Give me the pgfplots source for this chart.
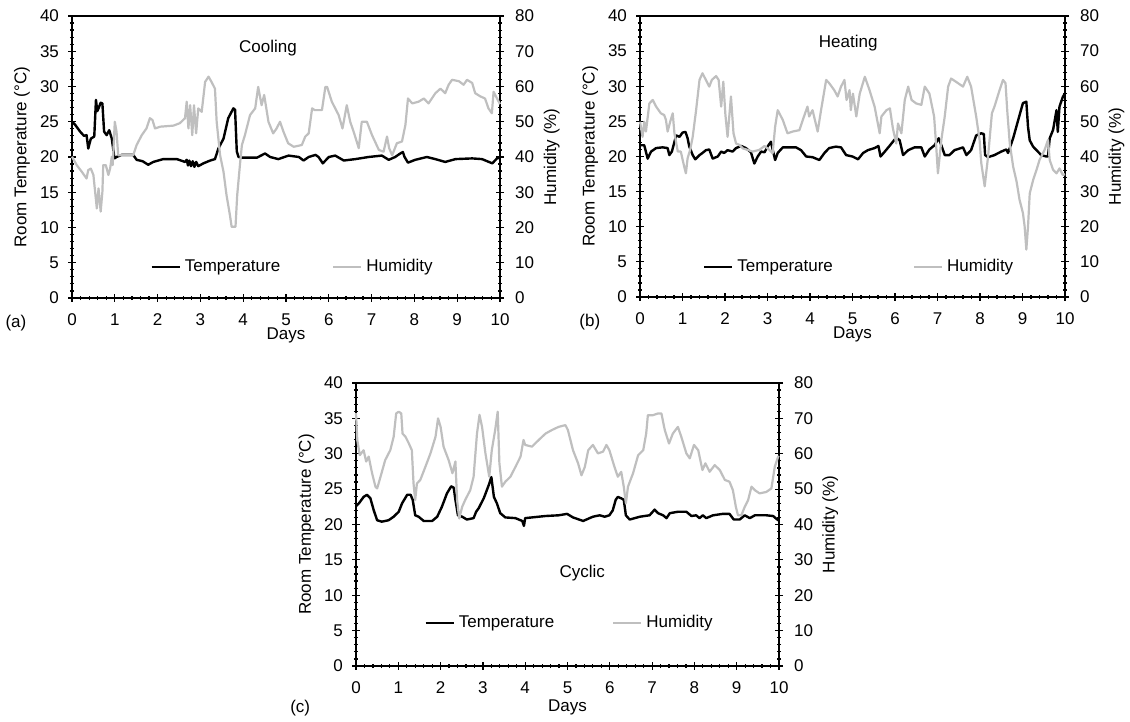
\documentclass[border=0pt]{standalone}
\usepackage{fontspec}
\setmainfont{Liberation Sans}
\usepackage{pgfplots}
\pgfplotsset{compat=1.18}

\definecolor{humgray}{RGB}{191,191,191}

\pgfplotsset{
  panel/.style={
    scale only axis,
    xmin=0, xmax=10,
    /pgf/number format/assume math mode=true,
    tick align=center,
    major tick length=4pt,
    minor tick length=2.2pt,
    every tick/.style={black, line width=0.6pt},
    axis line style={black, line width=0.8pt},
    clip=false,
  },
  tempax/.style={
    panel,
    ymin=0, ymax=40,
    xtick={0,1,...,10}, ytick={0,5,...,40},
    minor x tick num=4, minor y tick num=4,
    xtick pos=bottom, ytick pos=left,
    xticklabel shift=3pt, yticklabel shift=1.5pt,
    ylabel={Room Temperature (°C)}, xlabel={Days},
    every axis y label/.style={at={(axis description cs:-0.117,0.5)}, rotate=90, anchor=center},
    every axis x label/.style={at={(axis description cs:0.5,-0.145)}, anchor=center},
  },
  humax/.style={
    panel,
    ymin=0, ymax=80,
    ytick={0,10,...,80}, minor y tick num=4,
    axis y line*=right, axis x line=none,
    yticklabel shift=2.5pt,
    ylabel={Humidity (\%)},
    every axis y label/.style={at={(axis description cs:1.121,0.5)}, rotate=90, anchor=center},
    legend columns=2,
    legend image code/.code={\draw[#1] (0pt,0pt) -- (14pt,0pt);},
  },
  temp/.style={black, line width=1.2pt, line join=round},
  hum/.style={humgray, line width=1.1pt, line join=round},
}

\begin{document}
\fontsize{8.5}{10}\selectfont
\begin{tikzpicture}
\path[use as bounding box] (0pt,0pt) rectangle (565pt,361pt);

% (a) cooling
\begin{axis}[tempax, at={(36pt,212pt)}, anchor=south west, width=214pt, height=141pt,
  every axis x label/.style={at={(axis description cs:0.5,-0.134)}, anchor=center}]
\addplot[temp] coordinates {
(0,25.0) (0.07,24.6) (0.19,23.6) (0.28,23.0) (0.34,23.1) (0.38,21.2) (0.44,22.6) (0.52,22.9)
(0.56,28.1) (0.59,26.5) (0.62,26.9) (0.67,27.7) (0.71,27.6) (0.75,23.6) (0.81,23.1) (0.87,23.8)
(0.93,22.6) (0.97,20.8) (0.99,19.8) (1.04,20.0) (1.16,20.3) (1.43,20.3) (1.51,19.6) (1.65,19.4)
(1.78,18.9) (1.90,19.3) (2.13,19.7) (2.45,19.7) (2.64,19.3) (2.68,19.6) (2.71,18.8) (2.74,19.5)
(2.78,18.7) (2.82,19.4) (2.86,18.6) (2.90,19.3) (2.95,18.7) (3.07,19.1) (3.23,19.5) (3.34,19.7)
(3.42,21.2) (3.54,22.6) (3.65,25.5) (3.77,26.9) (3.81,26.7) (3.85,20.8) (3.89,20.0) (4.0,19.9)
(4.32,19.9) (4.51,20.5) (4.63,20.0) (4.82,19.7) (5.06,20.2) (5.30,20.0) (5.41,19.5) (5.53,20.0)
(5.69,20.3) (5.76,20.0) (5.86,19.1) (6.0,20.0) (6.15,20.2) (6.35,19.5) (6.62,19.7) (6.93,20.0)
(7.24,20.2) (7.40,19.6) (7.55,20.0) (7.67,20.5) (7.73,20.7) (7.77,20.0) (7.85,19.2) (8.02,19.6)
(8.29,20.0) (8.49,19.7) (8.72,19.3) (8.96,19.7) (9.35,19.8) (9.58,19.7) (9.82,19.1) (9.93,19.8)
(10,19.9)
};
\node at (axis cs:4.58,35.5) {Cooling};
\node at (rel axis cs:-0.131,-0.089) {(a)};
\end{axis}
\begin{axis}[humax, at={(36pt,212pt)}, anchor=south west, width=214pt, height=141pt,
  legend style={at={(0.5175,0.11)}, anchor=center, draw=none, fill=none,
    /tikz/every even column/.append style={column sep=24pt}}]
\addlegendimage{temp}
\addlegendentry{Temperature}
\addplot[hum] coordinates {
(0,40.1) (0.11,37.7) (0.23,35.8) (0.34,33.9) (0.38,36.3) (0.44,36.7) (0.50,34.9) (0.58,25.4)
(0.62,31.1) (0.67,24.5) (0.71,30.1) (0.73,37.7) (0.79,37.7) (0.85,34.9) (0.89,36.7) (0.93,40.1)
(0.95,37.7) (1.0,50.0) (1.04,47.2) (1.08,40.5) (1.16,40.5) (1.43,40.5) (1.51,43.4) (1.63,46.2)
(1.74,48.1) (1.82,51.0) (1.88,50.5) (1.94,48.1) (2.06,48.6) (2.37,48.9) (2.52,49.6) (2.64,51.0)
(2.68,55.7) (2.72,48.1) (2.76,54.7) (2.81,46.2) (2.85,54.7) (2.90,46.7) (2.95,53.8) (3.03,52.8)
(3.11,61.3) (3.19,62.8) (3.26,61.3) (3.34,59.4) (3.38,50.0) (3.46,40.5) (3.54,35.8) (3.61,29.2)
(3.69,23.5) (3.73,20.2) (3.82,20.2) (3.86,29.2) (3.93,38.6) (3.97,43.4) (4.04,46.2) (4.16,51.9)
(4.28,53.8) (4.35,59.9) (4.43,54.7) (4.49,57.6) (4.59,50.0) (4.70,46.7) (4.78,48.1) (4.86,50.0)
(4.94,47.2) (5.05,43.9) (5.18,42.9) (5.37,43.4) (5.45,45.8) (5.53,46.7) (5.61,53.8) (5.67,53.3)
(5.84,53.3) (5.92,59.9) (5.96,59.9) (6.07,55.7) (6.23,51.9) (6.32,48.1) (6.42,54.7) (6.50,50.0)
(6.58,47.2) (6.70,42.5) (6.77,50.0) (6.89,50.0) (7.01,46.2) (7.17,42.0) (7.28,41.5) (7.36,45.8)
(7.41,42.5) (7.48,40.5) (7.59,43.9) (7.71,44.4) (7.79,49.1) (7.85,56.6) (7.95,55.2) (8.10,55.7)
(8.22,56.6) (8.33,55.2) (8.49,58.1) (8.61,59.4) (8.72,58.1) (8.80,60.5) (8.88,61.9) (9.04,61.5)
(9.15,60.5) (9.23,61.9) (9.35,61.0) (9.42,58.1) (9.54,57.2) (9.65,56.6) (9.73,53.8) (9.81,52.4)
(9.85,58.5) (9.93,56.6) (10,55.0)
};
\addlegendentry{Humidity}
\end{axis}

% (b) heating
\begin{axis}[tempax, at={(320pt,212.5pt)}, anchor=south west, width=212.5pt, height=140.5pt,
  every axis x label/.style={at={(axis description cs:0.5,-0.134)}, anchor=center}]
\addplot[temp] coordinates {
(0,21.6) (0.10,21.6) (0.18,19.7) (0.26,20.7) (0.38,21.2) (0.53,21.3) (0.65,21.2) (0.69,20.2)
(0.75,20.7) (0.85,23.0) (0.93,22.8) (1.0,23.4) (1.07,23.5) (1.12,22.6) (1.16,21.4) (1.24,20.2)
(1.30,19.6) (1.40,20.2) (1.47,20.5) (1.55,20.9) (1.63,21.0) (1.71,19.7) (1.83,20.0) (1.91,20.7)
(1.98,20.5) (2.06,20.9) (2.18,20.7) (2.26,21.2) (2.38,21.5) (2.49,21.2) (2.61,20.6) (2.69,19.0)
(2.77,20.0) (2.85,20.7) (2.93,20.6) (3.0,21.4) (3.08,22.1) (3.12,21.0) (3.18,19.5) (3.24,20.5)
(3.36,21.3) (3.51,21.3) (3.67,21.3) (3.79,20.9) (3.91,20.0) (4.06,19.9) (4.22,19.5) (4.34,20.5)
(4.45,21.2) (4.61,21.4) (4.73,21.3) (4.85,20.2) (5.0,20.0) (5.13,19.6) (5.25,20.5) (5.36,20.9)
(5.52,21.2) (5.61,21.5) (5.66,20.0) (5.76,20.7) (5.87,21.5) (5.95,22.1) (6.03,22.7) (6.11,22.3)
(6.19,20.2) (6.31,20.9) (6.46,21.3) (6.62,21.3) (6.70,20.0) (6.81,21.0) (6.93,21.6) (7.03,22.6)
(7.09,21.6) (7.17,20.2) (7.28,20.2) (7.40,20.9) (7.60,21.3) (7.68,20.2) (7.79,20.9) (7.91,23.0)
(8.03,23.3) (8.09,23.2) (8.12,20.2) (8.19,19.9) (8.34,20.2) (8.50,20.7) (8.62,21.0) (8.66,20.5)
(8.78,22.6) (8.89,25.0) (9.01,27.6) (9.09,27.8) (9.13,24.2) (9.17,22.3) (9.25,21.4) (9.33,20.9)
(9.44,20.2) (9.56,20.0) (9.60,20.0) (9.64,22.6) (9.72,23.8) (9.80,26.6) (9.83,23.5) (9.87,27.1)
(9.95,28.5) (10,29.0)
};
\node at (axis cs:4.9,36.2) {Heating};
\node at (rel axis cs:-0.118,-0.089) {(b)};
\end{axis}
\begin{axis}[humax, at={(320pt,212.5pt)}, anchor=south west, width=212.5pt, height=140.5pt,
  legend style={at={(0.518,0.107)}, anchor=center, draw=none, fill=none,
    /tikz/every even column/.append style={column sep=38pt}}]
\addlegendimage{temp}
\addlegendentry{Temperature}
\addplot[hum] coordinates {
(0,49.9) (0.06,45.6) (0.10,49.9) (0.14,47.1) (0.22,55.1) (0.30,56.1) (0.38,54.2) (0.49,52.3)
(0.57,51.8) (0.61,50.4) (0.65,47.1) (0.71,49.9) (0.77,52.3) (0.81,46.6) (0.89,41.4) (0.96,41.4)
(1.04,37.1) (1.08,35.2) (1.12,39.5) (1.18,41.9) (1.24,45.6) (1.32,53.2) (1.40,61.8) (1.47,63.7)
(1.55,61.8) (1.63,59.9) (1.69,61.8) (1.79,62.9) (1.85,61.8) (1.91,54.2) (1.96,61.3) (2.01,51.8)
(2.06,45.6) (2.14,57.1) (2.20,46.6) (2.26,43.7) (2.34,43.3) (2.42,42.3) (2.53,41.9) (2.65,41.4)
(2.81,41.9) (2.93,43.0) (3.04,41.9) (3.12,40.9) (3.18,48.5) (3.24,53.2) (3.36,50.4) (3.47,46.6)
(3.59,47.1) (3.75,47.5) (3.83,50.4) (3.94,54.2) (3.98,51.4) (4.06,53.2) (4.18,47.1) (4.26,53.2)
(4.38,61.8) (4.45,60.9) (4.57,58.9) (4.65,57.1) (4.73,59.9) (4.81,61.8) (4.86,56.1) (4.93,58.9)
(4.96,53.2) (5.01,57.9) (5.09,51.4) (5.17,57.9) (5.29,62.7) (5.40,58.9) (5.52,54.2) (5.64,46.6)
(5.68,51.4) (5.80,53.2) (5.88,53.7) (5.95,48.0) (6.03,43.7) (6.07,49.4) (6.15,46.6) (6.23,56.1)
(6.31,59.9) (6.39,56.1) (6.50,55.1) (6.62,54.7) (6.70,59.9) (6.81,57.9) (6.92,51.4) (6.97,42.8)
(7.01,35.2) (7.09,44.7) (7.17,51.4) (7.25,59.9) (7.32,62.2) (7.48,60.9) (7.60,59.9) (7.70,62.7)
(7.79,59.9) (7.91,51.4) (7.99,44.7) (8.03,38.1) (8.11,31.5) (8.19,40.0) (8.28,52.3) (8.34,54.2)
(8.46,58.9) (8.54,61.8) (8.60,60.9) (8.64,53.2) (8.70,43.7) (8.78,37.1) (8.86,32.9) (8.93,27.7)
(9.01,23.9) (9.05,20.1) (9.09,13.5) (9.13,20.1) (9.17,29.5) (9.25,33.3) (9.33,36.2) (9.40,39.0)
(9.52,41.9) (9.60,44.7) (9.64,39.0) (9.72,36.2) (9.80,35.2) (9.87,36.6) (9.95,34.7) (10,35.0)
};
\addlegendentry{Humidity}
\end{axis}

% (c) cyclic
\begin{axis}[tempax, at={(178pt,28pt)}, anchor=south west, width=211.5pt, height=141.5pt]
\addplot[temp] coordinates {
(0,22.6) (0.07,23.0) (0.18,23.9) (0.26,24.2) (0.34,23.7) (0.42,22.0) (0.50,20.6) (0.61,20.4)
(0.77,20.6) (0.89,21.1) (1.01,21.8) (1.09,23.0) (1.21,24.2) (1.29,24.2) (1.34,23.5) (1.40,21.3)
(1.48,21.1) (1.60,20.5) (1.80,20.5) (1.92,21.1) (2.03,22.5) (2.15,24.4) (2.25,25.4) (2.31,25.2)
(2.35,23.5) (2.41,21.3) (2.51,21.1) (2.62,20.7) (2.78,20.9) (2.84,21.8) (2.90,22.3) (3.02,23.7)
(3.14,25.6) (3.20,26.7) (3.26,23.9) (3.33,23.0) (3.41,21.6) (3.53,21.0) (3.77,20.9) (3.93,20.5)
(3.97,19.8) (4.00,20.9) (4.16,21.0) (4.48,21.2) (4.79,21.3) (4.99,21.5) (5.13,21.0) (5.37,20.5)
(5.60,21.1) (5.76,21.3) (5.88,21.1) (5.99,21.3) (6.07,22.0) (6.14,23.5) (6.19,23.9) (6.27,23.7)
(6.33,23.5) (6.38,21.3) (6.47,20.7) (6.71,21.1) (6.94,21.3) (7.06,22.1) (7.14,21.6) (7.26,21.3)
(7.34,20.9) (7.42,21.6) (7.61,21.8) (7.81,21.8) (7.93,21.2) (8.04,21.3) (8.12,20.9) (8.20,21.3)
(8.28,20.9) (8.44,21.3) (8.67,21.5) (8.83,21.5) (8.93,20.7) (9.07,20.7) (9.19,21.3) (9.31,20.9)
(9.43,21.3) (9.70,21.3) (9.86,21.2) (9.98,20.6) (10,21.0)
};
\node at (axis cs:5.35,13.1) {Cyclic};
\node at (rel axis cs:-0.132,-0.148) {(c)};
\end{axis}
\begin{axis}[humax, at={(178pt,28pt)}, anchor=south west, width=211.5pt, height=141.5pt,
  legend style={at={(0.507,0.152)}, anchor=center, draw=none, fill=none,
    /tikz/every even column/.append style={column sep=27pt}}]
\addlegendimage{temp}
\addlegendentry{Temperature}
\addplot[hum] coordinates {
(0,71.5) (0.03,63.9) (0.09,59.6) (0.18,61.0) (0.24,57.8) (0.30,59.2) (0.38,54.5) (0.46,50.7)
(0.50,50.2) (0.58,53.5) (0.69,58.2) (0.81,61.0) (0.89,64.8) (0.95,71.4) (1.01,71.9) (1.07,71.4)
(1.10,65.7) (1.17,64.8) (1.25,62.9) (1.32,61.0) (1.36,51.6) (1.40,46.9) (1.44,51.6) (1.52,52.6)
(1.64,56.3) (1.76,60.1) (1.88,64.8) (1.94,70.0) (2.0,67.6) (2.07,62.0) (2.19,58.2) (2.28,54.5)
(2.35,57.8) (2.39,46.9) (2.44,41.7) (2.51,45.0) (2.58,46.9) (2.70,49.7) (2.78,53.5) (2.86,65.7)
(2.92,71.0) (2.98,67.6) (3.06,60.1) (3.15,53.5) (3.21,61.0) (3.29,66.7) (3.35,71.9) (3.39,57.3)
(3.45,50.7) (3.53,52.1) (3.65,53.5) (3.77,56.3) (3.89,59.2) (3.96,63.9) (4.00,62.5) (4.16,62.0)
(4.32,63.9) (4.48,65.7) (4.63,66.7) (4.79,67.6) (4.95,68.1) (5.01,66.7) (5.13,61.0) (5.25,57.3)
(5.33,53.9) (5.41,56.3) (5.49,61.0) (5.60,62.5) (5.72,60.1) (5.84,60.6) (5.92,62.5) (5.99,61.0)
(6.11,56.3) (6.19,53.5) (6.27,54.9) (6.33,50.7) (6.38,46.0) (6.43,50.7) (6.55,54.5) (6.67,59.6)
(6.79,61.0) (6.86,65.7) (6.90,70.9) (7.02,70.9) (7.14,71.4) (7.22,71.4) (7.30,66.7) (7.40,62.9)
(7.49,65.7) (7.61,67.6) (7.69,64.8) (7.81,60.1) (7.89,58.7) (7.99,62.5) (8.09,61.0) (8.19,55.4)
(8.26,57.3) (8.36,54.9) (8.48,56.8) (8.60,55.4) (8.72,52.6) (8.83,52.1) (8.91,49.7) (8.98,45.0)
(9.03,42.6) (9.11,42.6) (9.19,45.0) (9.27,46.9) (9.35,50.7) (9.43,49.7) (9.54,48.8) (9.70,49.2)
(9.82,50.2) (9.90,56.3) (9.98,59.2) (10,59.0)
};
\addlegendentry{Humidity}
\end{axis}
\end{tikzpicture}
\end{document}
